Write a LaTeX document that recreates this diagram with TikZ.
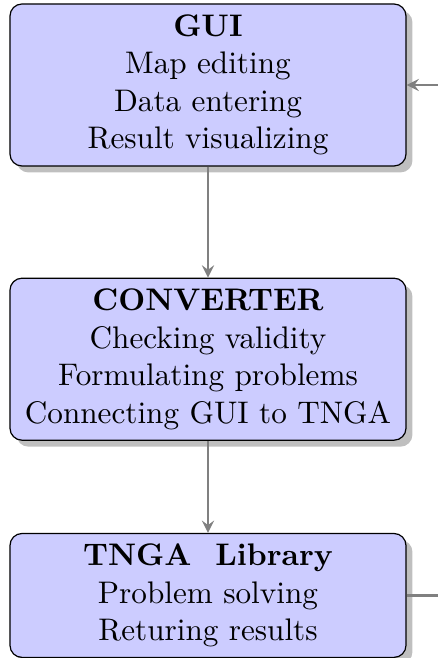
\documentclass[tikz,border=0pt]{standalone}
\usetikzlibrary{positioning,shadows}
\tikzset{
  block/.style={draw, fill=blue!20, rounded corners, drop shadow, minimum width=132pt, align=center,
    font=\fontsize{10.4}{12.5}\selectfont},
  link/.style={draw, gray, thick, ->, >=stealth},
}
\begin{document}
\begin{tikzpicture}
  \useasboundingbox (0,0) rectangle (145.67pt,-219.33pt);
  \node[block, minimum height=54pt] (gui) at (69.33pt,-28.33pt) {\textbf{GUI}\\Map editing\\Data entering\\Result visualizing};
  \node[block, minimum height=54pt, below=37pt of gui] (conv) {\textbf{CONVERTER}\\Checking validity\\Formulating problems\\Connecting GUI to TNGA};
  \node[block, minimum height=41.3pt, below=30.7pt of conv] (tnga) {\textbf{TNGA\ \ Library}\\Problem solving\\Returing results};
  \coordinate[right=20pt of tnga.east] (back);
  % arrows
  \draw[link] (gui) -- (conv);
  \draw[link] (conv) -- (tnga);
  \draw[link] (tnga.east) -- (back) |- (gui.east);
\end{tikzpicture}
\end{document}
